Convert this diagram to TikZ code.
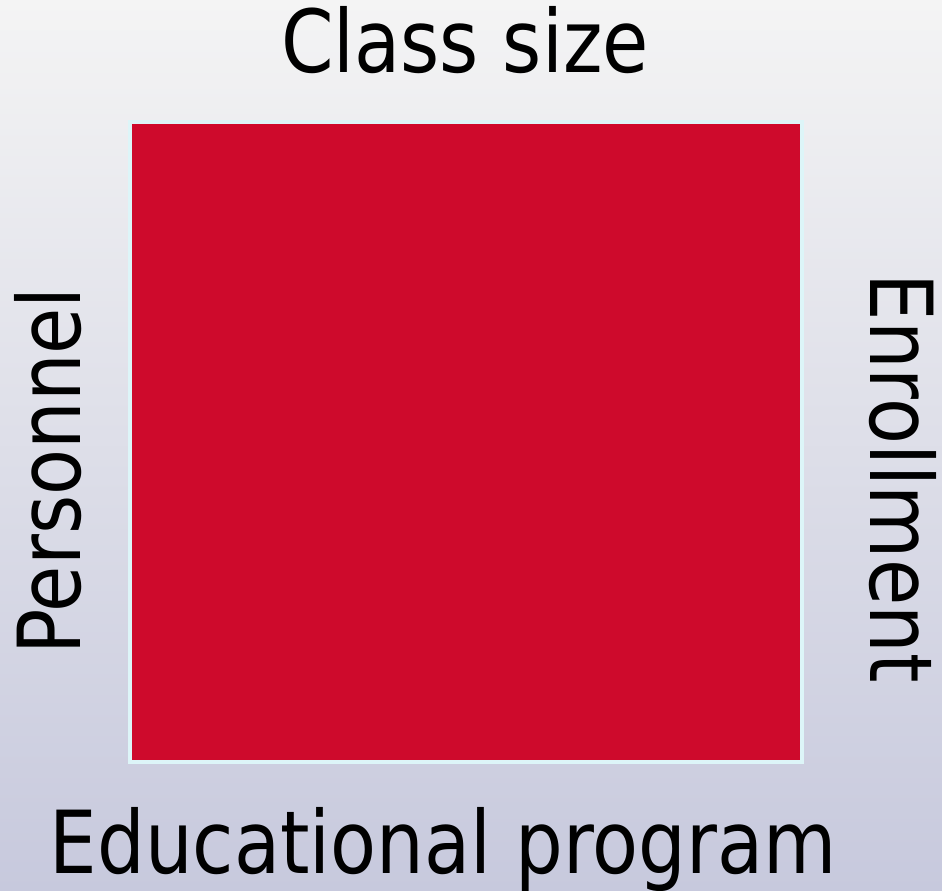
\documentclass[tikz,border=0pt]{standalone}
\usepackage{fontspec}
\setmainfont{DejaVu Sans}[FakeStretch = 0.865]
\definecolor{bgtop}{RGB}{244,244,244}
\definecolor{bgmid}{RGB}{229,230,238}
\definecolor{bgbot}{RGB}{199,201,221}
\definecolor{sqred}{RGB}{206,10,44}
\definecolor{sqedge}{RGB}{221,245,248}
\tikzset{
  lbl/.style = {inner sep = 0pt, font = \fontsize{49.5}{49.5}\selectfont},
  redsq/.style = {draw = sqedge, line width = 2.3pt, fill = sqred,
                  minimum width = 13.44cm, minimum height = 12.8cm, inner sep = 0pt}
}

\begin{document}
\begin{tikzpicture}[x = 0.02cm, y = -0.02cm]
\useasboundingbox (0,0) rectangle (942,891);
\shade[top color = bgtop, middle color = bgmid, bottom color = bgbot] (0,0) rectangle (942,891);
\node[redsq] (sq) at (466,442) {};
\node[lbl, anchor = base] (size) at (465,73) {Class size};
\node[lbl, anchor = base] (prog) at (443,873) {Educational program};
\node[lbl, anchor = base, rotate = 90] (staff) at (80,471) {Personnel};
\node[lbl, anchor = base, rotate = -90] (enrol) at (870,478) {Enrollment};
\end{tikzpicture}
\end{document}
